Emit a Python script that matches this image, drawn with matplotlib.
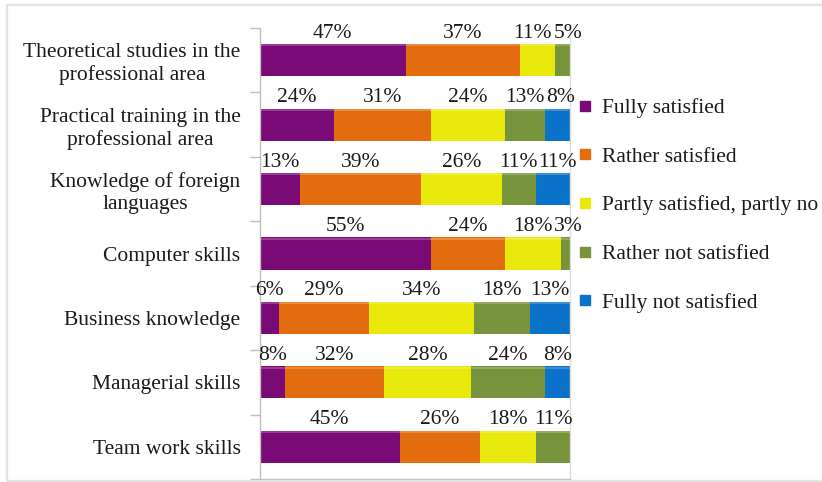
import matplotlib
matplotlib.use("Agg")
import matplotlib.pyplot as plt
from matplotlib.lines import Line2D
from matplotlib.patches import Rectangle
import numpy as np

categories = [
    "Theoretical studies in the\nprofessional area",
    "Practical training in the\nprofessional area",
    "Knowledge of foreign\nlanguages",
    "Computer skills",
    "Business knowledge",
    "Managerial skills",
    "Team work skills",
]
series_names = [
    "Fully satisfied",
    "Rather satisfied",
    "Partly satisfied, partly no",
    "Rather not satisfied",
    "Fully not satisfied",
]
fully_satisfied = [47, 24, 13, 55, 6, 8, 45]
rather_satisfied = [37, 31, 39, 24, 29, 32, 26]
partly = [11, 24, 26, 18, 34, 28, 18]
rather_not = [5, 13, 11, 3, 18, 24, 11]
fully_not = [0, 8, 11, 0, 13, 8, 0]

colors = ["#7A0B76", "#E36C0F", "#E8E80A", "#77933C", "#0A72C8"]

# small horizontal nudges (in axis units) for crowded labels: (row, series) -> dx
label_nudge = {(0, 2): -1.5, (0, 3): 2.0, (1, 4): 1.0, (2, 4): 1.5, (3, 3): 0.8}

plt.rcParams["font.family"] = ["Liberation Serif", "DejaVu Serif"]
FS = 15.5
TXT = "#1a1a1a"

fig = plt.figure(figsize=(8.22, 4.82), dpi=100)
W, H = 822, 482

# light frame around the chart
fig.patches.append(Rectangle((7 / W, 1 / H), 830 / W, 476 / H, transform=fig.transFigure,
                             fill=False, edgecolor="#E3E3E3", linewidth=1.6))

ax = fig.add_axes([260 / W, 1 - 479 / H, 310 / W, 451 / H])

data = [fully_satisfied, rather_satisfied, partly, rather_not, fully_not]
y = np.arange(len(categories))
left = np.zeros(len(categories))
for si, (vals, col, name) in enumerate(zip(data, colors, series_names)):
    vals = np.array(vals, dtype=float)
    bars = ax.barh(y, vals, left=left, height=0.5, color=col, edgecolor="none", label=name)
    # subtle bevel highlight along the top edge of each segment
    for b, v in zip(bars, vals):
        if v <= 0:
            continue
        x0, y0 = b.get_x(), b.get_y()
        ax.plot([x0 + 0.3, x0 + v - 0.3], [y0 + 0.02, y0 + 0.02], color="white", alpha=0.25, lw=1.2)
    for yi, (l, v) in enumerate(zip(left, vals)):
        if v > 0:
            dx = label_nudge.get((yi, si), 0.0)
            ax.text(l + v / 2 + dx, yi - 0.42, f"{int(v)}%", ha="center", va="center",
                    fontsize=FS, color=TXT)
    left += vals

ax.set_xlim(0, 100)
ax.set_ylim(len(categories) - 0.5, -0.5)
ax.set_xticks([])
ax.set_yticks(y)
ax.set_yticklabels(categories, fontsize=FS, color=TXT)
for t in ax.get_yticklabels():
    t.set_multialignment("center")
ax.tick_params(axis="y", which="major", length=0, pad=14)
ax.set_yticks(np.arange(-0.5, len(categories) + 0.5, 1), minor=True)
ax.tick_params(axis="y", which="minor", length=7, color="#BFBFBF", width=1)

for s in ["left", "bottom"]:
    ax.spines[s].set_color("#BFBFBF")
    ax.spines[s].set_linewidth(1)
ax.spines["right"].set_color("#DCDCDC")
ax.spines["right"].set_linewidth(1)
ax.spines["top"].set_visible(False)

handles = [Line2D([], [], marker="s", linestyle="none", markersize=7,
                  markerfacecolor=c, markeredgecolor=c) for c in colors]
fig.legend(handles, series_names, loc="upper left", bbox_to_anchor=(579 / W, 1 - 98 / H),
           frameon=False, fontsize=FS, labelcolor=TXT, handlelength=0.6,
           handletextpad=0.45, labelspacing=1.33, borderaxespad=0, borderpad=0)

fig.savefig("out.png", dpi=100)
